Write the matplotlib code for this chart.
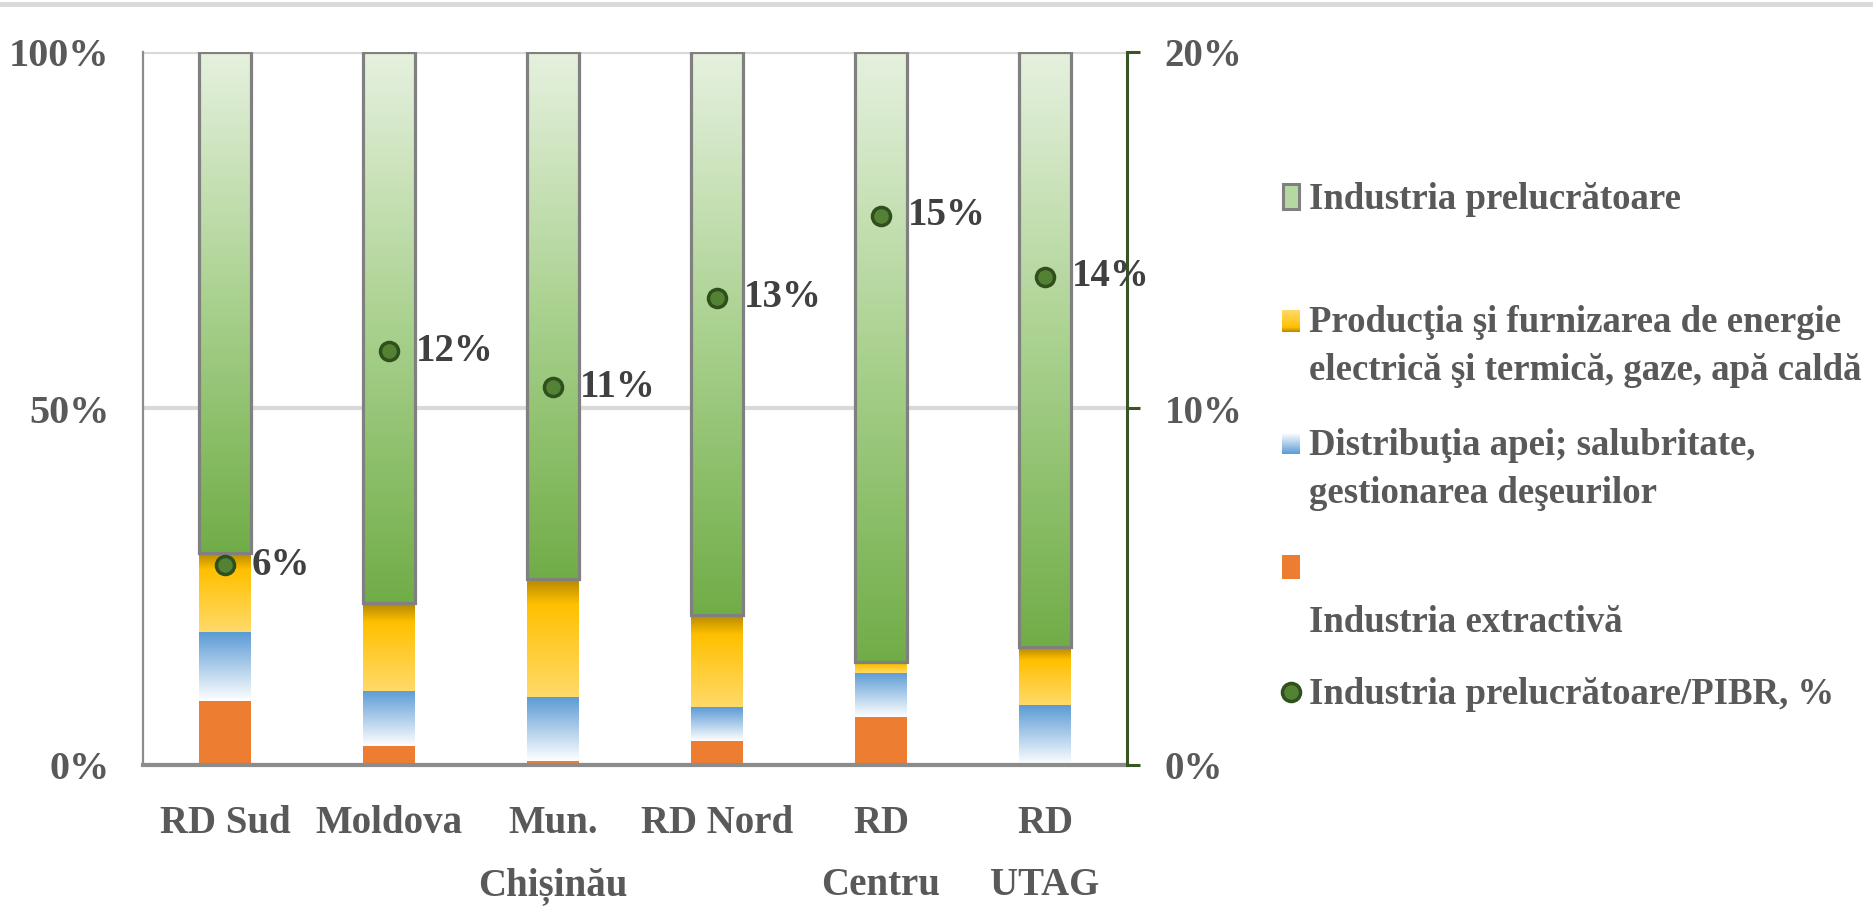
import numpy as np
import matplotlib
matplotlib.use("Agg")
import matplotlib.pyplot as plt
from matplotlib.colors import LinearSegmentedColormap
from matplotlib.patches import Rectangle
from matplotlib.lines import Line2D
from matplotlib.ticker import PercentFormatter, FixedLocator

plt.rcParams['font.family'] = ['Liberation Serif', 'DejaVu Serif']
plt.rcParams['font.weight'] = 'bold'

# ---------------- data ----------------
regions = ["RD Sud", "Moldova", "Mun.\nChișinău", "RD Nord", "RD\nCentru", "RD\nUTAG"]
extractiva = [9.0, 2.6, 0.6, 3.4, 6.7, 0.0]
apa = [9.6, 7.8, 8.9, 4.7, 6.2, 8.4]
energie = [11.1, 12.3, 16.6, 13.0, 1.5, 8.1]
prelucratoare = [70.3, 77.3, 73.9, 78.9, 85.6, 83.5]
prel_pibr = [5.6, 11.6, 10.6, 13.1, 15.4, 13.7]

left_ticks = [0, 50, 100]
right_ticks = [0, 10, 20]

leg_labels = ["Industria prelucrătoare",
              "Producţia şi furnizarea de energie\nelectrică şi termică, gaze, apă caldă",
              "Distribuţia apei; salubritate,\ngestionarea deşeurilor",
              "\nIndustria extractivă",
              "Industria prelucrătoare/PIBR, %"]

# ---------------- style ----------------
W, H = 1874, 922
TXT = "#595959"
LBL = "#404040"
grad_green = ["#e6f1df", "#a9d18e", "#70ad47"]
grad_yellow = [(0.0, "#b38600"), (0.22, "#ffc000"), (1.0, "#ffda6a")]
grad_blue = ["#5b9bd5", "#ffffff"]
orange = "#ed7d31"

fig = plt.figure(figsize=(W / 100, H / 100), dpi=100)
ax = fig.add_axes([143 / W, 1 - 765 / H, (1127 - 143) / W, (765 - 52) / H])

x = np.arange(len(regions))
bw = 0.317


def grad_fill(axis, patch, stops, z=2):
    cmap = LinearSegmentedColormap.from_list("g", stops)
    x0, y0 = patch.get_x(), patch.get_y()
    w, h = patch.get_width(), patch.get_height()
    if h <= 0:
        return
    arr = np.linspace(0, 1, 256).reshape(-1, 1)
    im = axis.imshow(arr, cmap=cmap, extent=(x0, x0 + w, y0, y0 + h), origin="upper",
                     aspect="auto", zorder=z, interpolation="bilinear")
    im.set_clip_path(patch)


b1 = np.array(extractiva)
b2 = b1 + np.array(apa)
b3 = b2 + np.array(energie)

bars_o = ax.bar(x, extractiva, bw, color=orange, zorder=2, linewidth=0)
bars_b = ax.bar(x, apa, bw, bottom=b1, facecolor="none", zorder=2, linewidth=0)
bars_y = ax.bar(x, energie, bw, bottom=b2, facecolor="none", zorder=2, linewidth=0)
bars_g = ax.bar(x, prelucratoare, bw, bottom=b3, facecolor="none", zorder=3,
                edgecolor="#808080", linewidth=2.3)

for p in bars_b:
    grad_fill(ax, p, grad_blue)
for p in bars_y:
    grad_fill(ax, p, grad_yellow)
for p in bars_g:
    grad_fill(ax, p, grad_green)

ax.set_xlim(-0.5, len(regions) - 0.5)
ax.set_ylim(0, 100)
ax.yaxis.set_major_locator(FixedLocator(left_ticks))
ax.yaxis.set_major_formatter(PercentFormatter(100, decimals=0))
ax.grid(axis="y", color="#d9d9d9", linewidth=3, zorder=0)
ax.set_axisbelow(True)
ax.set_xticks(x)
ax.set_xticklabels(regions, linespacing=1.9)
ax.tick_params(axis="x", length=0, pad=29, labelsize=28, labelcolor=TXT)
ax.tick_params(axis="y", length=0, pad=24, labelsize=29, labelcolor=TXT)
for s in ["top", "right"]:
    ax.spines[s].set_visible(False)
ax.spines["left"].set_color("#8c8c8c")
ax.spines["left"].set_linewidth(1.6)
ax.spines["bottom"].set_color("#8c8c8c")
ax.spines["bottom"].set_linewidth(3)
ax.spines["bottom"].set_zorder(4)

# secondary axis
ax2 = ax.twinx()
ax2.set_ylim(0, 20)
ax2.yaxis.set_major_locator(FixedLocator(right_ticks))
ax2.yaxis.set_major_formatter(PercentFormatter(100, decimals=0))
ax2.tick_params(axis="y", length=9, width=2.2, color="#375623", pad=18,
                labelsize=28, labelcolor=TXT)
for s in ["top", "left", "bottom"]:
    ax2.spines[s].set_visible(False)
ax2.spines["right"].set_color("#375623")
ax2.spines["right"].set_linewidth(2.2)

ax2.plot(x, prel_pibr, linestyle="none", marker="o", markersize=13,
         markerfacecolor="#548235", markeredgecolor="#2f4f1c", markeredgewidth=2.5,
         zorder=5)
for xi, v in zip(x, prel_pibr):
    ax2.annotate(f"{v:.0f}%", (xi, v), xytext=(19, 0), textcoords="offset points",
                 ha="left", va="center", fontsize=28, color=LBL, fontweight="bold")

# ---------------- legend (manual) ----------------
lax = fig.add_axes([0, 0, 1, 1], zorder=10)
lax.set_xlim(0, W)
lax.set_ylim(H, 0)
lax.axis("off")
lax.patch.set_alpha(0)

tx = 1309
hx, hw = 1282, 18
# caps-centre y of every text line, per entry
line_y = [[197], [320, 368], [443, 491], [None, 620], [692]]

# handles
lax.add_patch(Rectangle((hx + 1, 184), hw - 2, 25, facecolor="#b5d8a0",
                        edgecolor="#808080", linewidth=2.2))
hy = Rectangle((hx, 310), hw, 22, facecolor="none", edgecolor="none")
lax.add_patch(hy)
grad_fill(lax, hy, grad_yellow, z=11)
hb = Rectangle((hx, 433), hw, 21, facecolor="none", edgecolor="none")
lax.add_patch(hb)
grad_fill(lax, hb, grad_blue, z=11)
lax.add_patch(Rectangle((hx, 555), hw, 24, facecolor=orange, edgecolor="none"))
lax.add_line(Line2D([hx + hw / 2], [692], marker="o", markersize=13,
                    markerfacecolor="#548235", markeredgecolor="#2f4f1c",
                    markeredgewidth=2.5, linestyle="none"))
lax.set_xlim(0, W)
lax.set_ylim(H, 0)

for lab, ys in zip(leg_labels, line_y):
    for line, ly in zip(lab.split("\n"), ys):
        if ly is None or not line:
            continue
        lax.text(tx, ly + 12, line, ha="left", va="baseline", fontsize=26.5,
                 color=TXT, fontweight="bold")

# top frame line
lax.add_line(Line2D([0, W], [4, 4], color="#d9d9d9", linewidth=3.5))

fig.savefig("out.png", dpi=100)
